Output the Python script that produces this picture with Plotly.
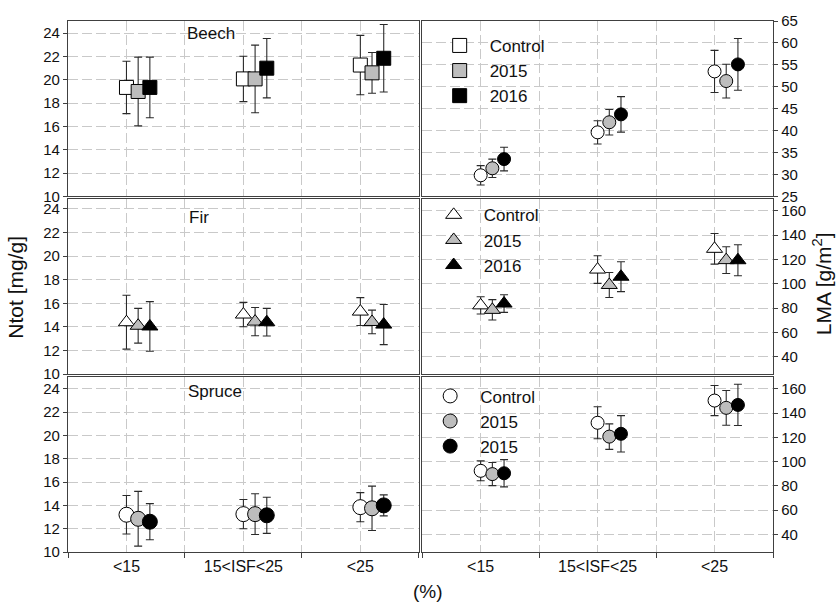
import plotly.graph_objects as go
from plotly.subplots import make_subplots

# ---------------- data ----------------
categories = ["<15", "15<ISF<25", "<25"]
cat_pos = [1, 2, 3]
series_names_top = ["Control", "2015", "2016"]
series_names_mid = ["Control", "2015", "2016"]
series_names_bot = ["Control", "2015", "2015"]

# Beech
beech_ntot = {"Control": [19.35, 20.08, 21.27], "2015": [19.0, 20.08, 20.6], "2016": [19.35, 21.0, 21.85]}
beech_ntot_err = {"Control": [2.25, 1.95, 2.55], "2015": [2.95, 2.9, 1.75], "2016": [2.6, 2.55, 2.9]}
beech_lma = {"Control": [29.8, 39.6, 53.5], "2015": [31.4, 41.9, 51.3], "2016": [33.5, 43.7, 55.1]}
beech_lma_err = {"Control": [2.2, 2.65, 4.8], "2015": [2.1, 2.9, 3.85], "2016": [2.7, 4.05, 5.9]}

# Fir
fir_ntot = {"Control": [14.4, 15.05, 15.3], "2015": [14.1, 14.45, 14.42], "2016": [14.04, 14.4, 14.2]}
fir_ntot_err = {"Control": [2.28, 1.03, 1.18], "2015": [1.47, 1.2, 1.0], "2016": [2.1, 1.17, 1.7]}
fir_lma = {"Control": [82.2, 111.7, 128.8], "2015": [78.5, 99.0, 119.5], "2016": [83.7, 105.8, 119.4]}
fir_lma_err = {"Control": [7.1, 11.4, 12.6], "2015": [8.4, 10.3, 11.0], "2016": [7.3, 12.3, 12.8]}

# Spruce
spruce_ntot = {"Control": [13.2, 13.25, 13.85], "2015": [12.85, 13.25, 13.75], "2016": [12.6, 13.15, 14.0]}
spruce_ntot_err = {"Control": [1.65, 1.25, 1.25], "2015": [2.35, 1.75, 1.9], "2016": [1.55, 1.55, 0.9]}
spruce_lma = {"Control": [92.4, 132.0, 150.3], "2015": [89.7, 120.6, 144.3], "2016": [90.4, 122.9, 146.7]}
spruce_lma_err = {"Control": [8.2, 13.2, 12.4], "2015": [9.5, 10.5, 14.3], "2016": [11.2, 15.0, 17.0]}

series_keys = ["Control", "2015", "2016"]
fill_colors = {"Control": "#ffffff", "2015": "#bdbdbd", "2016": "#000000"}
offsets = [0.0, 0.1, 0.2]

FONT = "Liberation Sans, Arial, sans-serif"

fig = make_subplots(rows=3, cols=2, horizontal_spacing=0.0048, vertical_spacing=0.0047)

# (row, col, values, errors, plot symbol, size, legend id, legend symbol, names)
panels = [
    (1, 1, beech_ntot, beech_ntot_err, "square", 14, None, None, series_names_top),
    (1, 2, beech_lma, beech_lma_err, "circle", 13, "legend", "square", series_names_top),
    (2, 1, fir_ntot, fir_ntot_err, "triangle-up", 14, None, None, series_names_mid),
    (2, 2, fir_lma, fir_lma_err, "triangle-up", 14, "legend2", "triangle-up", series_names_mid),
    (3, 1, spruce_ntot, spruce_ntot_err, "circle", 15, None, None, series_names_bot),
    (3, 2, spruce_lma, spruce_lma_err, "circle", 13, "legend3", "circle", series_names_bot),
]

for row, col, vals, errs, sym, size, leg, legsym, names in panels:
    for i, key in enumerate(series_keys):
        xs = [p + offsets[i] for p in cat_pos]
        fig.add_trace(go.Scatter(
            x=xs, y=vals[key], mode="markers",
            name=names[i],
            marker=dict(symbol=sym, size=size,
                        color=fill_colors[key], line=dict(color="#000000", width=1)),
            error_y=dict(type="data", array=errs[key], visible=True,
                         color="#2a2a2a", thickness=1.1, width=4),
            showlegend=False,
        ), row=row, col=col)
    if leg is not None:
        # legend-only entries (no data drawn) with the legend symbol shown in the reference
        for i, key in enumerate(series_keys):
            fig.add_trace(go.Scatter(
                x=[None], y=[None], mode="markers", name=names[i],
                marker=dict(symbol=legsym, size=14, color=fill_colors[key],
                            line=dict(color="#000000", width=1)),
                showlegend=True, legend=leg,
            ), row=row, col=col)

grid_col = "#c9c9c9"
axis_col = "#404040"

for row in (1, 2, 3):
    for col in (1, 2):
        fig.update_xaxes(
            row=row, col=col, range=[0.5, 3.5],
            tickvals=cat_pos, ticktext=categories,
            showticklabels=(row == 3), ticks="",
            showgrid=True, gridcolor=grid_col, griddash="10px,4px", gridwidth=1,
            minor=dict(tick0=0.5, dtick=1, ticks=("outside" if row == 3 else ""), ticklen=5,
                       tickcolor=axis_col, showgrid=True, gridcolor=grid_col,
                       griddash="10px,4px", gridwidth=1),
            showline=True, linecolor=axis_col, linewidth=1.3, mirror=True,
            zeroline=False,
            tickfont=dict(family=FONT, size=16, color="#111"),
        )

ycommon = dict(showgrid=True, gridcolor=grid_col, griddash="10px,4px", gridwidth=1,
               showline=True, linecolor=axis_col, linewidth=1.3, mirror=True,
               ticks="outside", ticklen=4, tickcolor=axis_col, zeroline=False,
               tickfont=dict(family=FONT, size=15, color="#111"))

for row, rng in ((1, [10, 25.05]), (2, [10, 24.85]), (3, [10, 25.05])):
    fig.update_yaxes(row=row, col=1, range=rng, tick0=10, dtick=2, **ycommon)

fig.update_yaxes(row=1, col=2, range=[25, 65], tick0=25, dtick=5, side="right", **ycommon)
fig.update_yaxes(row=2, col=2, range=[25.5, 170], tick0=0, dtick=20, side="right", **ycommon)
fig.update_yaxes(row=3, col=2, range=[25.5, 170], tick0=0, dtick=20, side="right", **ycommon)

leg_common = dict(bgcolor="rgba(0,0,0,0)", borderwidth=0, font=dict(family=FONT, size=17, color="#111"),
                  xanchor="left", yanchor="top", tracegroupgap=0, itemwidth=50)
fig.update_layout(
    legend=dict(x=0.513, y=0.987, **leg_common),
    legend2=dict(x=0.5045, y=0.668, **leg_common),
    legend3=dict(x=0.4995, y=0.327, **leg_common),
)

ann = []
ann.append(dict(text="Beech", x=0.1658, y=0.977, xref="paper", yref="paper", xanchor="left",
                yanchor="middle", showarrow=False, font=dict(family=FONT, size=17, color="#111")))
ann.append(dict(text="Fir", x=0.1687, y=0.630, xref="paper", yref="paper", xanchor="left",
                yanchor="middle", showarrow=False, font=dict(family=FONT, size=17, color="#111")))
ann.append(dict(text="Spruce", x=0.1672, y=0.302, xref="paper", yref="paper", xanchor="left",
                yanchor="middle", showarrow=False, font=dict(family=FONT, size=17, color="#111")))
ann.append(dict(text="Ntot [mg/g]", x=-0.075, y=0.498, xref="paper", yref="paper", textangle=-90,
                xanchor="center", yanchor="middle", showarrow=False,
                font=dict(family=FONT, size=21, color="#111")))
ann.append(dict(text="LMA [g/m<sup>2</sup>]", x=1.069, y=0.5056, xref="paper", yref="paper",
                textangle=-90, xanchor="center", yanchor="middle", showarrow=False,
                font=dict(family=FONT, size=21, color="#111")))
ann.append(dict(text="(%)", x=0.510, y=-0.0746, xref="paper", yref="paper", xanchor="center",
                yanchor="middle", showarrow=False, font=dict(family=FONT, size=19, color="#111")))

fig.update_layout(
    width=837, height=603,
    margin=dict(l=68, r=64, t=16, b=51),
    paper_bgcolor="white", plot_bgcolor="white",
    annotations=ann,
    font=dict(family=FONT, color="#111"),
)

fig.write_html("out.html")
